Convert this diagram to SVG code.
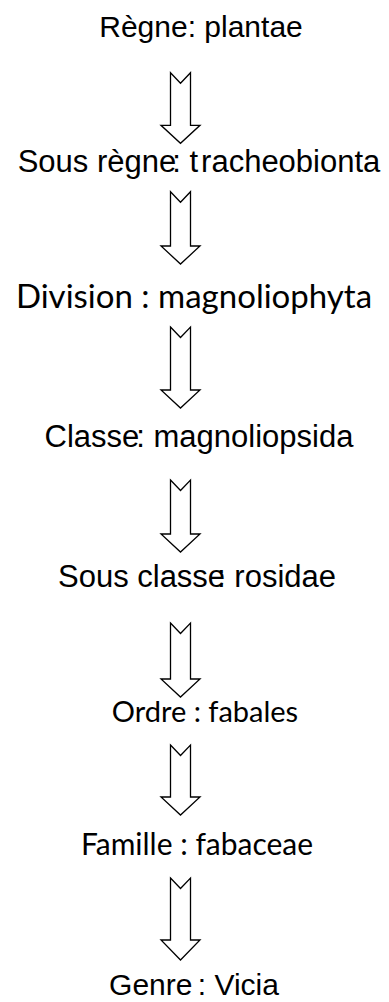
<svg xmlns="http://www.w3.org/2000/svg" width="389" height="1002" viewBox="0 0 389 1002">
<style>
.t{font-family:"Liberation Sans",Arial,sans-serif;font-size:30px;fill:#000;text-anchor:middle}
.c{font-family:Lato,"Liberation Sans",sans-serif;font-size:30px;fill:#000;text-anchor:middle}
.a{fill:#fff;stroke:#000;stroke-width:1.3;stroke-linejoin:miter}
</style>
<rect width="389" height="1002" fill="#fff"/>
<g id="n1"><text class="t" x="201" y="37">Règne: plantae</text></g>
<g id="n2"><text class="t" x="199" y="172" style="font-size:31px">Sous règne<tspan dx="-4">:</tspan> t<tspan dx="3">racheobionta</tspan></text></g>
<g id="n3"><text class="c" x="194" y="308" style="font-size:33px">Division : magnoliophyta</text></g>
<g id="n4"><text class="t" x="199" y="447" style="font-size:31px">Classe<tspan dx="-3">:</tspan> magnoliopsida</text></g>
<g id="n5"><text class="t" x="197" y="587" style="font-size:31px">Sous classe<tspan dx="-8">:</tspan> rosidae</text></g>
<g id="n6"><text class="c" x="205" y="722" style="font-size:29px">Ordre : fabales</text></g>
<g id="n7"><text class="c" x="197" y="855">Famille : fabaceae</text></g>
<g id="n8"><text class="t" x="194" y="995">Genre<tspan dx="-3"> :</tspan> Vicia</text></g>
<g id="connectors">
<path class="a" d="M170.5,72.7 L180.5,83.2 L190.5,72.7 L190.5,125.3 L200,125.3 L180.5,143.3 L161,125.3 L170.5,125.3 Z"/>
<path class="a" d="M170.5,191.7 L180.5,202.2 L190.5,191.7 L190.5,246 L200,246 L180.5,264 L161,246 L170.5,246 Z"/>
<path class="a" d="M170.5,327 L180.5,337.5 L190.5,327 L190.5,390 L200,390 L180.5,408 L161,390 L170.5,390 Z"/>
<path class="a" d="M170.5,480 L180.5,490.5 L190.5,480 L190.5,534 L200,534 L180.5,552 L161,534 L170.5,534 Z"/>
<path class="a" d="M170.5,623 L180.5,633.5 L190.5,623 L190.5,679 L200,679 L180.5,697 L161,679 L170.5,679 Z"/>
<path class="a" d="M170.5,745 L180.5,755.5 L190.5,745 L190.5,797 L200,797 L180.5,815 L161,797 L170.5,797 Z"/>
<path class="a" d="M170.5,878 L180.5,888.5 L190.5,878 L190.5,940 L200,940 L180.5,960 L161,940 L170.5,940 Z"/>
</g>
</svg>
